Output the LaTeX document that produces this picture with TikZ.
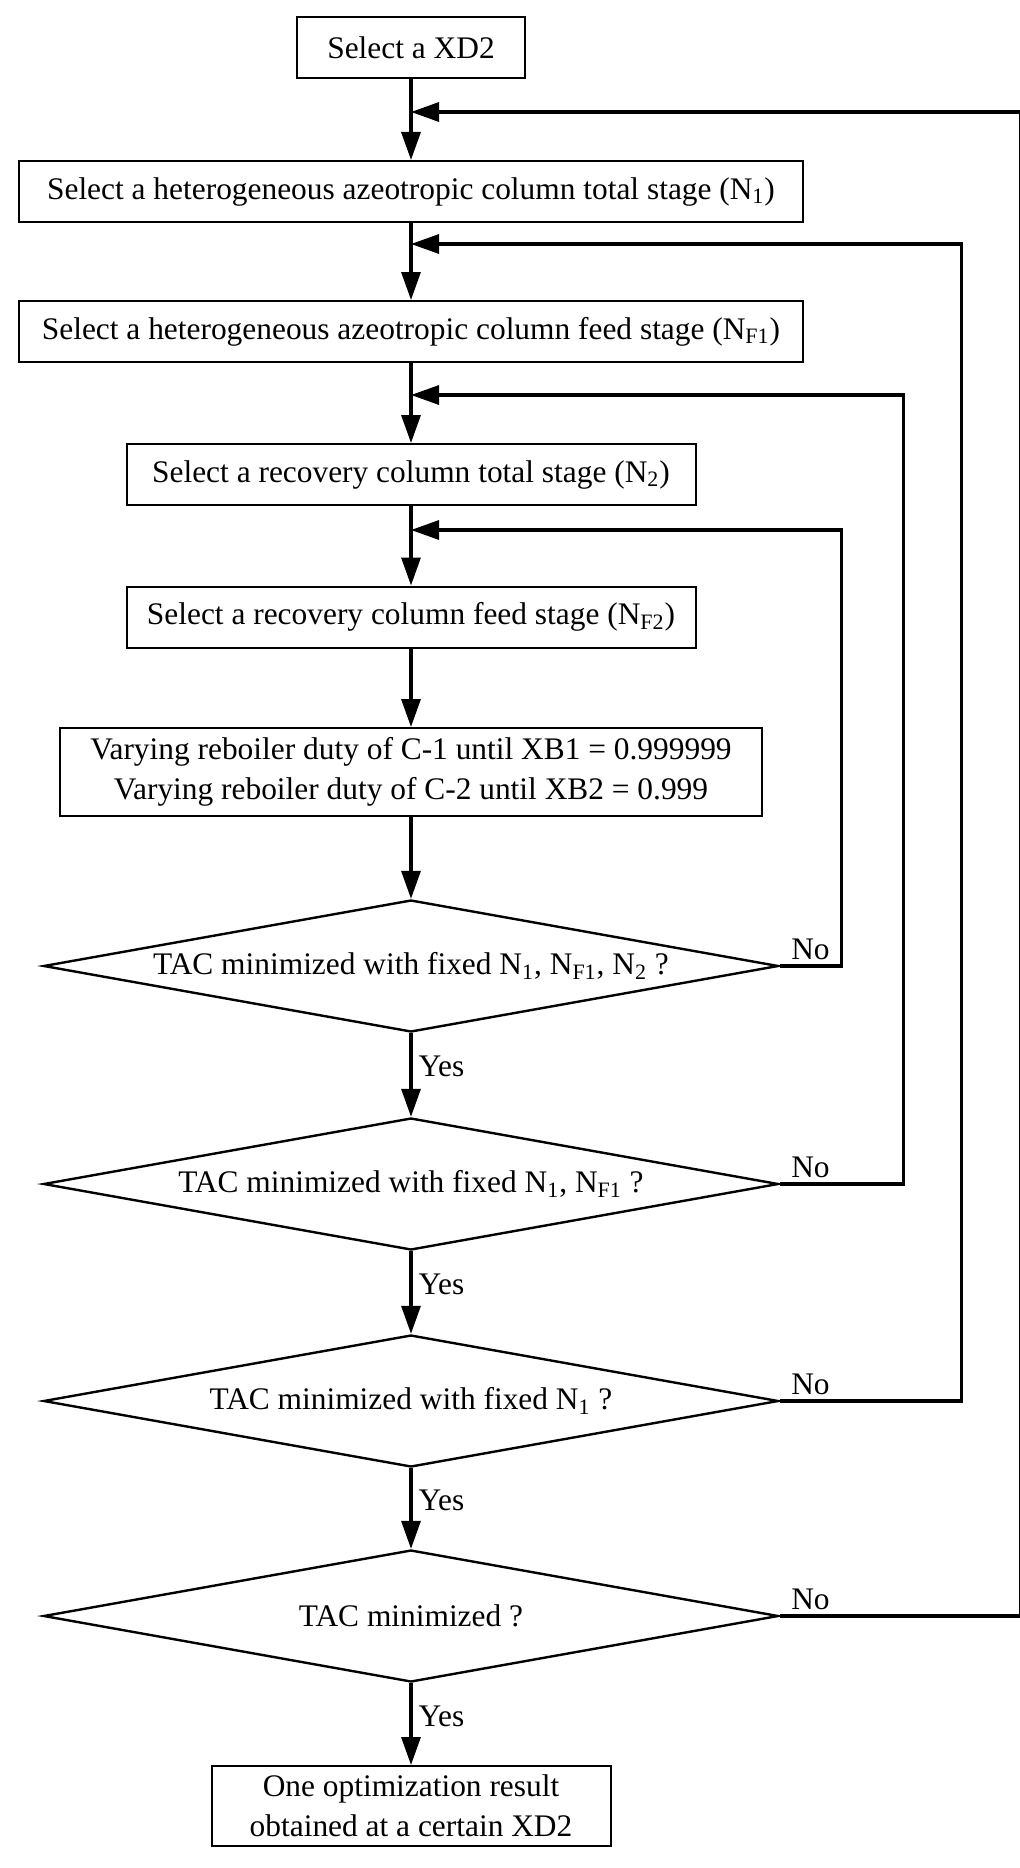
\documentclass[tikz,border=0pt]{standalone}
\usepackage{fontspec}
\setmainfont{Liberation Serif}
\usetikzlibrary{shapes.geometric,arrows.meta}
\begin{document}
\begin{tikzpicture}[x=0.5pt,y=-0.5pt,font=\fontsize{15.7}{20}\selectfont,
  stagebox/.style={draw,line width=1pt,minimum height=30.5pt,inner sep=0pt,align=center},
  test/.style={draw,diamond,aspect=5.57,line width=1.2pt,minimum width=367.5pt,minimum height=66pt,inner sep=0pt},
  flow/.style={line width=1.6pt,-{Triangle[length=14pt,width=9.5pt]}},
  no/.style={above right,inner sep=2.5pt,xshift=2.5pt},
  yes/.style={right,pos=0.4,inner sep=3pt}]
\useasboundingbox (0,0) rectangle (1020,1868);
\node[stagebox,minimum width=114pt] (xd) at (411,47.5) {Select a XD2};
\node[stagebox,minimum width=392pt] (n1) at (411,191.5) {Select a heterogeneous azeotropic column total stage (N\textsubscript{1})};
\node[stagebox,minimum width=392pt] (nf1) at (411,331.5) {Select a heterogeneous azeotropic column feed stage (N\textsubscript{F1})};
\node[stagebox,minimum width=284.5pt] (n2) at (411,474.5) {Select a recovery column total stage (N\textsubscript{2})};
\node[stagebox,minimum width=284.5pt] (nf2) at (411,617) {Select a recovery column feed stage (N\textsubscript{F2})};
\node[stagebox,minimum width=351pt,minimum height=44pt] (duty) at (411,772) {Varying reboiler duty of C-1 until XB1 = 0.999999\\Varying reboiler duty of C-2 until XB2 = 0.999};
\node[test] (d1) at (411,966) {TAC minimized with fixed N\textsubscript{1}, N\textsubscript{F1}, N\textsubscript{2} ?};
\node[test] (d2) at (411,1184) {TAC minimized with fixed N\textsubscript{1}, N\textsubscript{F1} ?};
\node[test] (d3) at (411,1401) {TAC minimized with fixed N\textsubscript{1} ?};
\node[test] (d4) at (411,1616) {TAC minimized ?};
\node[stagebox,minimum width=199.5pt,minimum height=40pt] (res) at (411,1806) {One optimization result\\obtained at a certain XD2};
% loop entry points
\coordinate (j1) at (411,112);
\coordinate (j2) at (411,244);
\coordinate (j3) at (411,395);
\coordinate (j4) at (411,530);
% main line
\draw[flow] (xd) -- (n1);
\draw[flow] (n1) -- (nf1);
\draw[flow] (nf1) -- (n2);
\draw[flow] (n2) -- (nf2);
\draw[flow] (nf2) -- (duty);
\draw[flow] (duty) -- (d1);
\draw[flow] (d1) -- node[yes]{Yes} (d2);
\draw[flow] (d2) -- node[yes]{Yes} (d3);
\draw[flow] (d3) -- node[yes]{Yes} (d4);
\draw[flow] (d4) -- node[yes]{Yes} (res);
% loops back
\draw[flow] (d1.east) node[no]{No} -- ++(62,0) |- (j4);
\draw[flow] (d2.east) node[no]{No} -- ++(124,0) |- (j3);
\draw[flow] (d3.east) node[no]{No} -- ++(182,0) |- (j2);
\draw[flow] (d4.east) node[no]{No} -- ++(241,0) |- (j1);
\end{tikzpicture}
\end{document}
